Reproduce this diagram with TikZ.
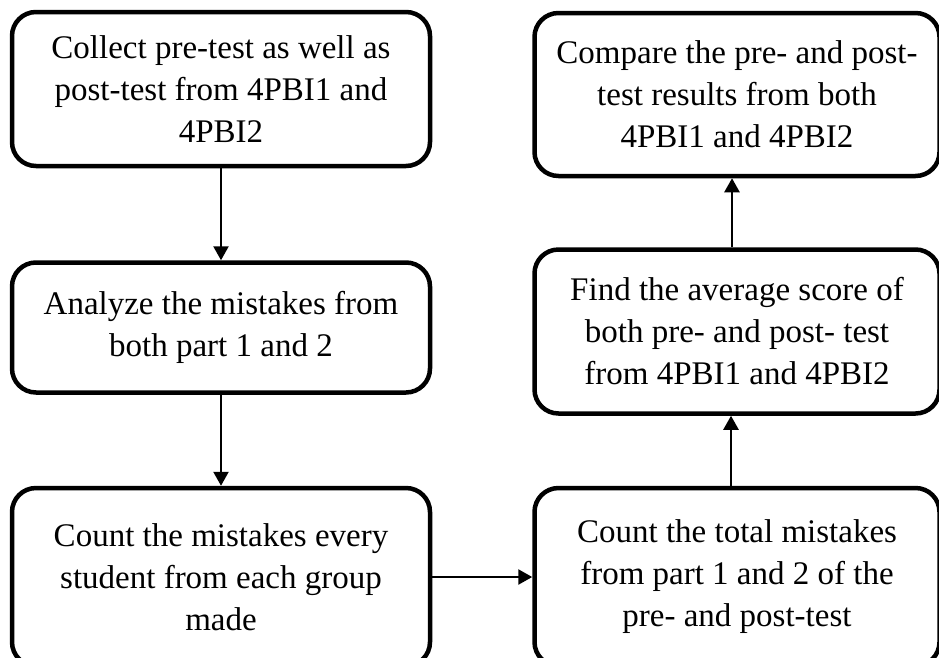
\documentclass[tikz,border=0pt]{standalone}
\usepackage{fontspec}
\setmainfont{Liberation Serif}
\usetikzlibrary{shapes,arrows.meta,positioning,calc}

\begin{document}
\begin{tikzpicture}[x=1pt, y=-1pt, node distance=92pt,
    stepbox/.style={rectangle, draw, line width=4.5pt, rounded corners=24pt, align=center, inner sep=0pt, font={\fontsize{33}{42}\selectfont}},
    flow/.style={-{Triangle[length=14pt,width=15pt]}, line width=2.4pt}]

    \useasboundingbox (0,0) rectangle (939,657);

    \node[stepbox, minimum width=418pt, minimum height=154pt] (collect) at (221,89) {Collect pre-test as well as\\post-test from 4PBI1 and\\4PBI2};
    \node[stepbox, minimum width=418pt, minimum height=130pt, below=of collect] (analyze) {Analyze the mistakes from\\both part 1 and 2};
    \node[stepbox, minimum width=418pt, minimum height=178pt, below=91pt of analyze] (countstud) {Count the mistakes every\\student from each group\\made};
    \node[stepbox, minimum width=405pt, minimum height=178pt, right=100pt of countstud] (counttotal) {Count the total mistakes\\from part 1 and 2 of the\\pre- and post-test};
    \node[stepbox, minimum width=405pt, minimum height=164pt, above=70pt of counttotal] (average) {Find the average score of\\both pre- and post- test\\from 4PBI1 and 4PBI2};
    \node[stepbox, minimum width=405pt, minimum height=163pt, above=69pt of average] (compare) {Compare the pre- and post-\\test results from both\\4PBI1 and 4PBI2};

    \draw[flow] (collect.south) -- (analyze.north);
    \draw[flow] (analyze.south) -- (countstud.north);
    \draw[flow] (countstud.east) -- (counttotal.west);
    \draw[flow] ([xshift=-6pt]counttotal.north) -- ([xshift=-6pt]counttotal.north |- average.south);
    \draw[flow] ([xshift=-5pt]average.north) -- ([xshift=-5pt]average.north |- compare.south);
\end{tikzpicture}
\end{document}
